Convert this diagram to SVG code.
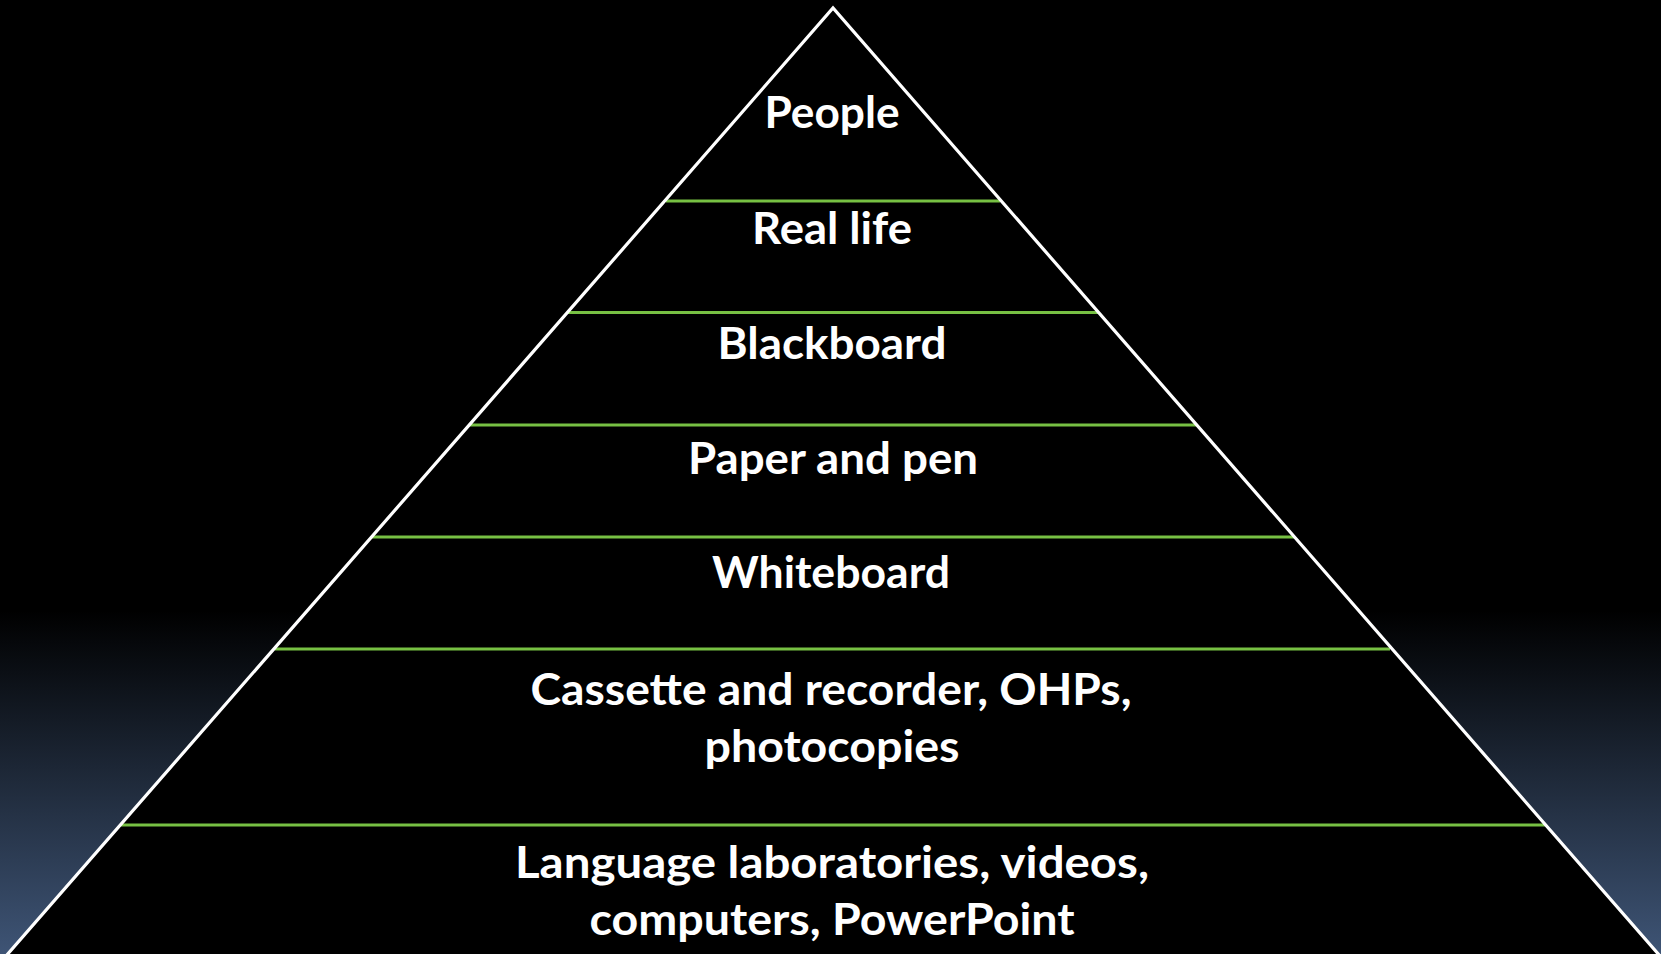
<svg xmlns="http://www.w3.org/2000/svg" width="1661" height="954" viewBox="0 0 1661 954">
<defs>
<linearGradient id="bg" x1="0" y1="0" x2="0" y2="954" gradientUnits="userSpaceOnUse">
<stop offset="0" stop-color="#000000"/>
<stop offset="0.64" stop-color="#000000"/>
<stop offset="1" stop-color="#3e5475"/>
</linearGradient>
<style>
.lbl{font-family:Lato,"Open Sans","Liberation Sans",sans-serif;font-weight:700;font-size:44px;fill:#ffffff;text-anchor:middle}
.sep{stroke:#77c043;stroke-width:2.8;fill:none}
.edge{stroke:#ffffff;stroke-width:3.2;fill:none;stroke-linejoin:miter}
</style>
</defs>
<rect x="0" y="0" width="1661" height="954" fill="url(#bg)"/>
<polygon points="833,8 6,956 1660,956" fill="#000000"/>
<g id="connectors">
<line class="sep" x1="666" y1="201" x2="1000" y2="201"/>
<line class="sep" x1="568" y1="312.5" x2="1098" y2="312.5"/>
<line class="sep" x1="470" y1="425" x2="1196" y2="425"/>
<line class="sep" x1="372" y1="537" x2="1294" y2="537"/>
<line class="sep" x1="275" y1="649" x2="1390" y2="649"/>
<line class="sep" x1="121" y1="825" x2="1545" y2="825"/>
</g>
<polyline class="edge" points="6,956 833,8 1660,956"/>
<g id="people"><text class="lbl" x="832" y="128" textLength="135" lengthAdjust="spacingAndGlyphs">People</text></g>
<g id="reallife"><text class="lbl" x="832" y="244" textLength="160" lengthAdjust="spacingAndGlyphs">Real life</text></g>
<g id="blackboard"><text class="lbl" x="832" y="359" textLength="229" lengthAdjust="spacingAndGlyphs">Blackboard</text></g>
<g id="paperpen"><text class="lbl" x="833" y="474" textLength="290" lengthAdjust="spacingAndGlyphs">Paper and pen</text></g>
<g id="whiteboard"><text class="lbl" x="831" y="588" textLength="238" lengthAdjust="spacingAndGlyphs">Whiteboard</text></g>
<g id="cassette">
<text class="lbl" x="831" y="705" textLength="601" lengthAdjust="spacingAndGlyphs">Cassette and recorder, OHPs,</text>
<text class="lbl" x="832" y="762" textLength="255" lengthAdjust="spacingAndGlyphs">photocopies</text>
</g>
<g id="language">
<text class="lbl" x="832" y="878" textLength="634" lengthAdjust="spacingAndGlyphs">Language laboratories, videos,</text>
<text class="lbl" x="832" y="935" textLength="485" lengthAdjust="spacingAndGlyphs">computers, PowerPoint</text>
</g>
</svg>
